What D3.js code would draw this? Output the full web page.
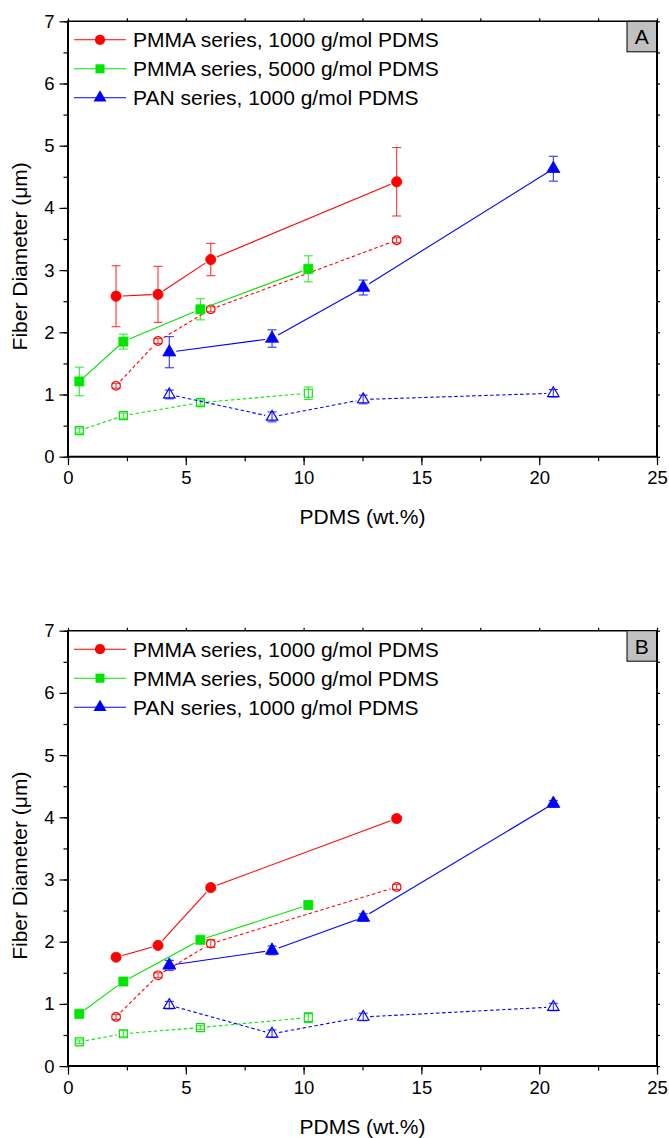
<!DOCTYPE html>
<html>
<head>
<meta charset="utf-8">
<script src="https://cdn.jsdelivr.net/npm/d3@7"></script>
<style>
  html, body { margin: 0; padding: 0; background: #fff; }
  svg { display: block; font-family: "Liberation Sans", Arial, Helvetica, sans-serif; }
</style>
</head>
<body>
<svg id="chart" width="669" height="1138"></svg>
<script>
// ---- data -------------------------------------------------------------
const xTicks = [0, 5, 10, 15, 20, 25];
const yTicks = [0, 1, 2, 3, 4, 5, 6, 7];
const seriesNames = [
  "PMMA series, 1000 g/mol PDMS",
  "PMMA series, 5000 g/mol PDMS",
  "PAN series, 1000 g/mol PDMS"
];
const seriesColors = ["#ff0000", "#00e600", "#0000ff"];
const seriesShapes = ["circle", "square", "triangle"];

// PDMS content (wt.%) of each fibre set
const pmma1000X = [2.04, 3.82, 6.06, 13.95];
const pmma5000X = [0.48, 2.35, 5.62, 10.2];
const pan1000X  = [4.3, 8.66, 12.53, 20.6];

// Panel A: filled = as-spun, open = after treatment
const aPmma1000Filled = [2.58, 2.61, 3.17, 4.42];
const aPmma1000FilledErr = [0.49, 0.45, 0.26, 0.55];
const aPmma1000Open = [1.14, 1.86, 2.37, 3.48];
const aPmma1000OpenErr = [0.04, 0.04, 0.04, 0.04];
const aPmma5000Filled = [1.21, 1.85, 2.37, 3.02];
const aPmma5000FilledErr = [0.23, 0.12, 0.17, 0.21];
const aPmma5000Open = [0.42, 0.66, 0.87, 1.02];
const aPmma5000OpenErr = [0.04, 0.04, 0.04, 0.10];
const aPanFilled = [1.68, 1.90, 2.72, 4.63];
const aPanFilledErr = [0.25, 0.14, 0.12, 0.20];
const aPanOpen = [1.00, 0.64, 0.92, 1.02];
const aPanOpenErr = [0.07, 0.08, 0.07, 0.06];

// Panel B
const bPmma1000Filled = [1.75, 1.94, 2.87, 3.98];
const bPmma1000FilledErr = [0.03, 0.03, 0.04, 0.04];
const bPmma1000Open = [0.79, 1.46, 1.97, 2.88];
const bPmma1000OpenErr = [0.04, 0.04, 0.06, 0.04];
const bPmma5000Filled = [0.84, 1.36, 2.03, 2.59];
const bPmma5000FilledErr = [0.03, 0.03, 0.04, 0.03];
const bPmma5000Open = [0.39, 0.52, 0.62, 0.78];
const bPmma5000OpenErr = [0.03, 0.05, 0.03, 0.08];
const bPanFilled = [1.62, 1.86, 2.39, 4.22];
const bPanFilledErr = [0.08, 0.07, 0.06, 0.05];
const bPanOpen = [0.98, 0.52, 0.79, 0.95];
const bPanOpenErr = [0.06, 0.06, 0.06, 0.06];

// ---- layout -----------------------------------------------------------
const plotLeft = 68, plotRight = 657, plotH = 435.4;
const panels = [
  {
    label: "A", top: 21.3,
    series: [
      { x: pmma1000X, y: aPmma1000Filled, e: aPmma1000FilledErr, k: 0, open: false },
      { x: pmma1000X, y: aPmma1000Open,   e: aPmma1000OpenErr,   k: 0, open: true },
      { x: pmma5000X, y: aPmma5000Filled, e: aPmma5000FilledErr, k: 1, open: false },
      { x: pmma5000X, y: aPmma5000Open,   e: aPmma5000OpenErr,   k: 1, open: true },
      { x: pan1000X,  y: aPanFilled,      e: aPanFilledErr,      k: 2, open: false },
      { x: pan1000X,  y: aPanOpen,        e: aPanOpenErr,        k: 2, open: true }
    ]
  },
  {
    label: "B", top: 630.7,
    series: [
      { x: pmma1000X, y: bPmma1000Filled, e: bPmma1000FilledErr, k: 0, open: false },
      { x: pmma1000X, y: bPmma1000Open,   e: bPmma1000OpenErr,   k: 0, open: true },
      { x: pmma5000X, y: bPmma5000Filled, e: bPmma5000FilledErr, k: 1, open: false },
      { x: pmma5000X, y: bPmma5000Open,   e: bPmma5000OpenErr,   k: 1, open: true },
      { x: pan1000X,  y: bPanFilled,      e: bPanFilledErr,      k: 2, open: false },
      { x: pan1000X,  y: bPanOpen,        e: bPanOpenErr,        k: 2, open: true }
    ]
  }
];

const svg = d3.select("#chart");
const x = d3.scaleLinear().domain([0, 25]).range([plotLeft, plotRight]);

function markerPath(shape, open) {
  if (shape === "circle") return d3.symbol(d3.symbolCircle, open ? 58 : 82)();
  if (shape === "square") return d3.symbol(d3.symbolSquare, open ? 64 : 82)();
  return d3.symbol(d3.symbolTriangle, open ? 56 : 74)();
}
function markerRadius(shape) {
  return shape === "square" ? 5 : shape === "circle" ? 5 : 5.5;
}

panels.forEach(p => {
  const y = d3.scaleLinear().domain([0, 7]).range([p.top + plotH, p.top]);
  const g = svg.append("g");
  const bottom = p.top + plotH;

  // minor + major ticks on the left/bottom, short ticks on top/right
  const minorY = d3.range(0, 7.01, 0.5);
  const minorX = d3.range(0, 25.01, 2.5);

  g.append("g").attr("transform", `translate(${plotLeft},0)`)
    .call(d3.axisLeft(y).tickValues(minorY).tickSize(4.5).tickFormat(""))
    .call(a => a.select(".domain").remove());
  g.append("g").attr("transform", `translate(0,${bottom})`)
    .call(d3.axisBottom(x).tickValues(minorX).tickSize(4.5).tickFormat(""))
    .call(a => a.select(".domain").remove());
  g.append("g").attr("transform", `translate(${plotRight},0)`)
    .call(d3.axisRight(y).tickValues(minorY).tickSize(3).tickFormat(""))
    .call(a => a.select(".domain").remove());
  g.append("g").attr("transform", `translate(0,${p.top})`)
    .call(d3.axisTop(x).tickValues(minorX).tickSize(3).tickFormat(""))
    .call(a => a.select(".domain").remove());

  const yAxis = g.append("g").attr("transform", `translate(${plotLeft},0)`)
    .call(d3.axisLeft(y).tickValues(yTicks).tickSize(8.5).tickPadding(5).tickFormat(d3.format("d")));
  yAxis.select(".domain").remove();
  yAxis.selectAll("text").attr("font-size", 18.5).attr("fill", "#000").attr("font-family", "inherit");
  const xAxis = g.append("g").attr("transform", `translate(0,${bottom})`)
    .call(d3.axisBottom(x).tickValues(xTicks).tickSize(8.5).tickPadding(6).tickFormat(d3.format("d")));
  xAxis.select(".domain").remove();
  xAxis.selectAll("text").attr("font-size", 18.5).attr("fill", "#000").attr("font-family", "inherit");
  g.selectAll(".tick line").attr("stroke", "#000").attr("stroke-width", 1.2);

  // frame
  g.append("line").attr("x1", plotLeft).attr("x2", plotRight).attr("y1", p.top).attr("y2", p.top)
    .attr("stroke", "#000").attr("stroke-width", 1.5);
  g.append("line").attr("x1", plotRight).attr("x2", plotRight).attr("y1", p.top - 0.75).attr("y2", bottom)
    .attr("stroke", "#000").attr("stroke-width", 2);
  g.append("line").attr("x1", plotLeft).attr("x2", plotLeft).attr("y1", p.top - 0.75).attr("y2", bottom + 1)
    .attr("stroke", "#000").attr("stroke-width", 2);
  g.append("line").attr("x1", plotLeft - 1).attr("x2", plotRight + 1).attr("y1", bottom).attr("y2", bottom)
    .attr("stroke", "#000").attr("stroke-width", 2);

  // axis titles
  g.append("text")
    .attr("transform", `translate(27,${p.top + 235}) rotate(-90)`)
    .attr("text-anchor", "middle").attr("font-size", 21).attr("fill", "#000")
    .text("Fiber Diameter (μm)");
  g.append("text")
    .attr("x", (plotLeft + plotRight) / 2).attr("y", bottom + 67.5)
    .attr("text-anchor", "middle").attr("font-size", 21).attr("fill", "#000")
    .text("PDMS (wt.%)");

  // series: connecting segments trimmed at the markers, error bars, markers
  p.series.forEach(s => {
    const color = seriesColors[s.k];
    const shape = seriesShapes[s.k];
    const pts = s.x.map((v, i) => [x(v), y(s.y[i])]);
    const gap = markerRadius(shape) + 1.5;
    const sg = g.append("g");
    for (let i = 0; i < pts.length - 1; i++) {
      const [x1, y1] = pts[i], [x2, y2] = pts[i + 1];
      const len = Math.hypot(x2 - x1, y2 - y1);
      const ux = (x2 - x1) / len, uy = (y2 - y1) / len;
      sg.append("line")
        .attr("x1", x1 + ux * gap).attr("y1", y1 + uy * gap)
        .attr("x2", x2 - ux * gap).attr("y2", y2 - uy * gap)
        .attr("stroke", color).attr("stroke-width", 1.1)
        .attr("stroke-dasharray", s.open ? "3.5,2.5" : null);
    }
    s.x.forEach((v, i) => {
      const cx = x(v), t = y(s.y[i] + s.e[i]), b = y(s.y[i] - s.e[i]);
      const eg = sg.append("g").attr("stroke", color).attr("stroke-width", 1.1).attr("opacity", 0.8);
      eg.append("line").attr("x1", cx).attr("x2", cx).attr("y1", t).attr("y2", b);
      eg.append("line").attr("x1", cx - 4.5).attr("x2", cx + 4.5).attr("y1", t).attr("y2", t);
      eg.append("line").attr("x1", cx - 4.5).attr("x2", cx + 4.5).attr("y1", b).attr("y2", b);
    });
    sg.selectAll("path.mk").data(pts).join("path").attr("class", "mk")
      .attr("transform", d => `translate(${d[0]},${d[1]})`)
      .attr("d", markerPath(shape, s.open))
      .attr("fill", s.open ? "none" : color)
      .attr("stroke", color).attr("stroke-width", s.open ? 1.2 : 0.8);
  });

  // legend
  const rows = [18.5, 47.5, 76.5];
  seriesNames.forEach((name, i) => {
    const ly = p.top + rows[i];
    g.append("line").attr("x1", 74).attr("x2", 126).attr("y1", ly).attr("y2", ly)
      .attr("stroke", seriesColors[i]).attr("stroke-width", 1.1);
    g.append("path").attr("transform", `translate(100,${ly})`)
      .attr("d", markerPath(seriesShapes[i], false)).attr("fill", seriesColors[i]);
    g.append("text").attr("x", 133).attr("y", ly + 7.5)
      .attr("font-size", 21).attr("fill", "#000").text(name);
  });

  // panel tag
  g.append("rect").attr("x", 627).attr("y", p.top).attr("width", 29.5).attr("height", 30.5)
    .attr("fill", "#c0c0c0").attr("stroke", "#000").attr("stroke-width", 1);
  g.append("text").attr("x", 641.8).attr("y", p.top + 23)
    .attr("text-anchor", "middle").attr("font-size", 21).attr("fill", "#000").text(p.label);
});
</script>
</body>
</html>
